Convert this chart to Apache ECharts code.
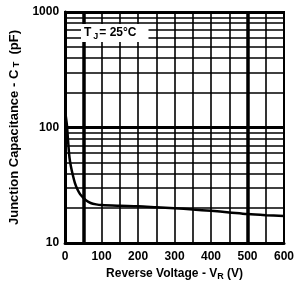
<!DOCTYPE html>
<html><head><meta charset="utf-8">
<script src="https://cdn.jsdelivr.net/npm/echarts@6/dist/echarts.min.js"></script>
<style>html,body{margin:0;padding:0;background:#fff}#c{width:301px;height:290px}</style>
</head><body><div id="c"></div>
<script>
var voltage = [2, 5, 8, 12, 16, 21, 27, 34, 41, 48, 58, 70, 85, 100, 150, 200, 250, 300, 350, 400, 450, 500, 550, 600];
var capacitance = [125, 105, 78, 55, 46, 39, 33, 29, 26.5, 25, 23.3, 22.2, 21.6, 21.3, 21, 20.8, 20.4, 20, 19.5, 19, 18.4, 17.8, 17.4, 17.1];
var xTicks = [0, 100, 200, 300, 400, 500, 600];
var yTicks = [10, 100, 1000];
var minorY = [20, 30, 40, 50, 60, 70, 80, 90, 200, 300, 400, 500, 600, 700, 800, 900];
var thickX = [50, 500];

var chart = echarts.init(document.getElementById('c'));
var font = 'Liberation Sans';
var lines = [];
minorY.forEach(function (v) { lines.push({ yAxis: v, lineStyle: { width: 1.6 } }); });
thickX.forEach(function (v) { lines.push({ xAxis: v, lineStyle: { width: 3.5 } }); });

chart.setOption({
  animation: false,
  grid: { left: 63, right: 17, top: 12, bottom: 47, show: true, borderColor: '#000', borderWidth: 2 },
  xAxis: {
    type: 'value', min: 0, max: 600, interval: 50,
    axisLine: { show: true, onZero: false, lineStyle: { color: '#000', width: 3 } },
    axisTick: { show: false },
    axisLabel: {
      interval: 1, color: '#000', fontFamily: font, fontSize: 12, fontWeight: 'bold', margin: 8,
      formatter: function (v) { return xTicks.indexOf(v) >= 0 ? String(v) : ''; }
    },
    splitLine: { show: true, lineStyle: { color: '#000', width: 1.6 } },
    name: '{a|Reverse Voltage - V}{s|R}{a| (V)}',
    nameLocation: 'middle', nameGap: 24,
    nameTextStyle: { rich: {
      a: { fontFamily: font, fontSize: 12, fontWeight: 'bold', color: '#000' },
      s: { fontFamily: font, fontSize: 9, fontWeight: 'bold', color: '#000', verticalAlign: 'bottom', padding: [5, 0, 0, 0] }
    } }
  },
  yAxis: {
    type: 'log', logBase: 10, min: 10, max: 1000,
    axisLine: { show: true, lineStyle: { color: '#000', width: 3 } },
    axisTick: { show: false },
    axisLabel: {
      color: '#000', fontFamily: font, fontSize: 12, fontWeight: 'bold', margin: 6,
      formatter: function (v) { return yTicks.indexOf(Math.round(v)) >= 0 ? String(Math.round(v)) : ''; }
    },
    splitLine: { show: true, lineStyle: { color: '#000', width: 3 } },
    name: '{a|Junction Capacitance - C}{s| T}{a|  (pF)}',
    nameLocation: 'middle', nameGap: 41, nameRotate: 90,
    nameTextStyle: { rich: {
      a: { fontFamily: font, fontSize: 13, fontWeight: 'bold', color: '#000' },
      s: { fontFamily: font, fontSize: 9, fontWeight: 'bold', color: '#000', verticalAlign: 'bottom', padding: [5, 0, 0, 0] }
    } }
  },
  graphic: [{
    type: 'text', left: 81, top: 24, z: 100,
    style: {
      text: '{a|T}{s|J}{a|= 25°C}',
      backgroundColor: '#fff', padding: [1, 12, 1, 3],
      rich: {
        a: { fontFamily: font, fontSize: 12, fontWeight: 'bold', fill: '#000' },
        s: { fontFamily: font, fontSize: 9, fontWeight: 'bold', fill: '#000', padding: [7, 1, 0, 2] }
      }
    }
  }],
  series: [{
    type: 'line', smooth: 0.3, symbol: 'none',
    data: voltage.map(function (v, i) { return [v, capacitance[i]]; }),
    lineStyle: { color: '#000', width: 2.5 },
    markLine: {
      silent: true, symbol: 'none', label: { show: false },
      lineStyle: { color: '#000', type: 'solid' },
      data: lines
    },
    z: 5
  }]
});
</script></body></html>
